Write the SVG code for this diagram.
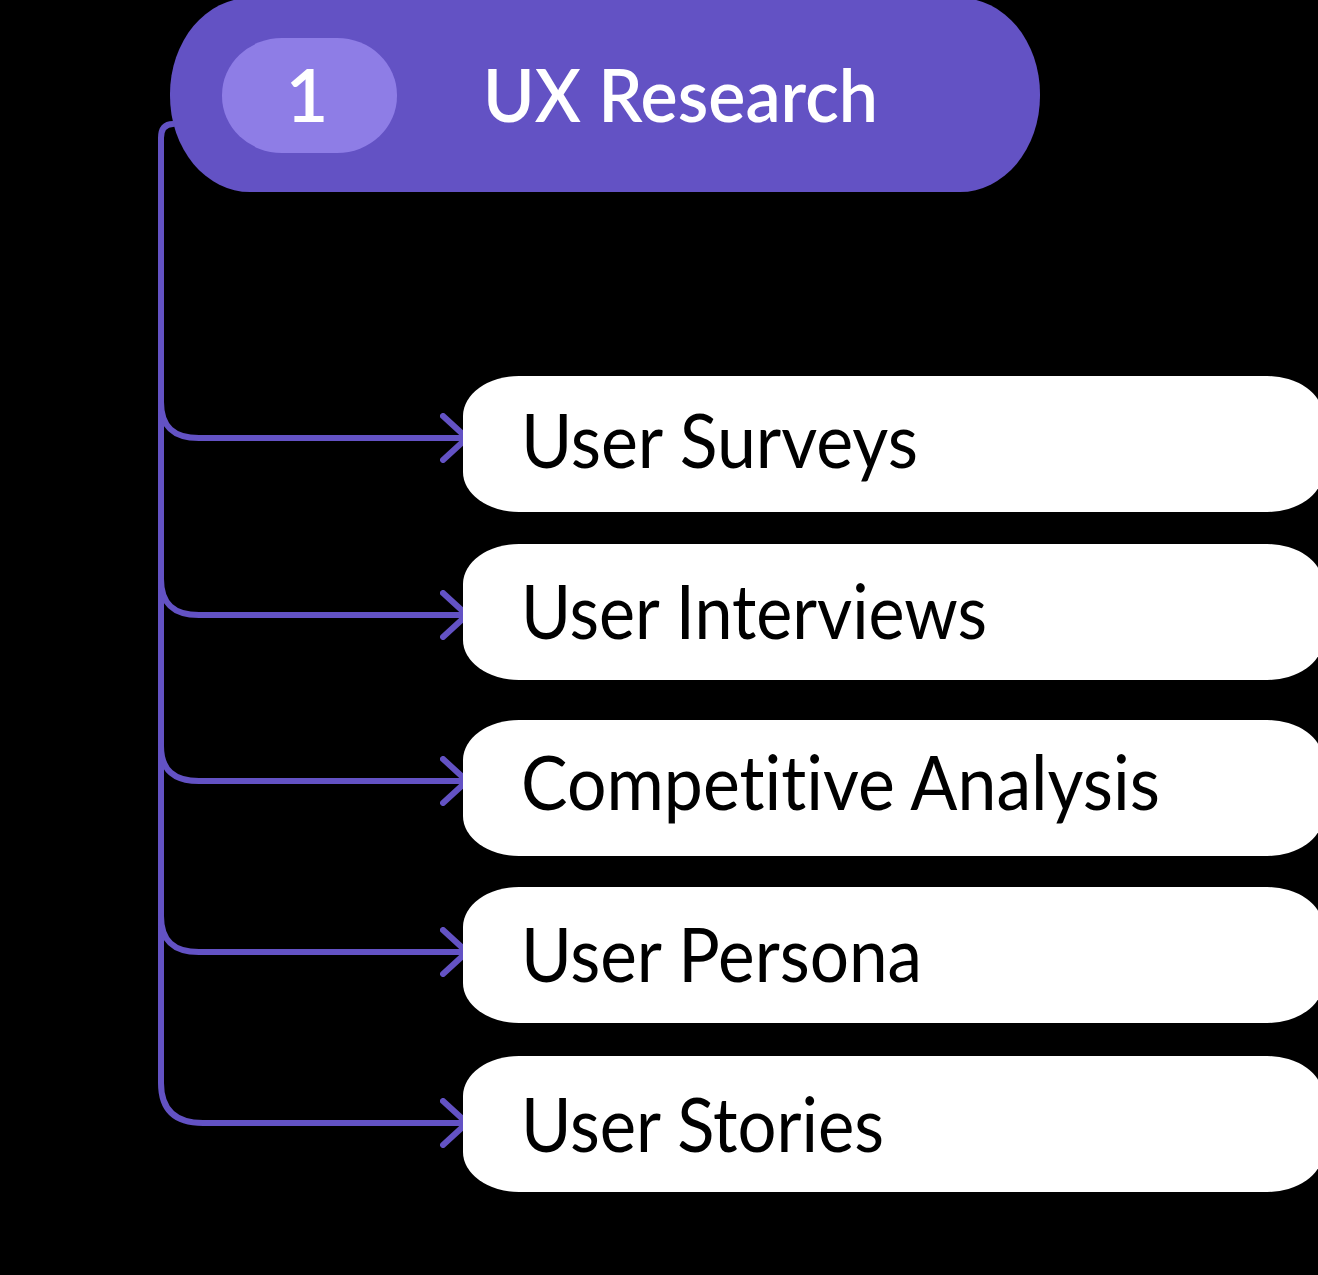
<svg xmlns="http://www.w3.org/2000/svg" width="1318" height="1275" viewBox="0 0 1318 1275">
  <style>
    .conn { fill: none; stroke: #6352C4; stroke-width: 6; stroke-linecap: round; stroke-linejoin: round; }
    .pill { fill: #FFFFFF; }
    .label { font-family: Lato, "Liberation Sans", sans-serif; font-size: 75px; font-weight: 400; fill: #000000; font-variant-ligatures: none; }
    .head { font-family: Lato, "Liberation Sans", sans-serif; font-size: 74px; font-weight: 600; fill: #FFFFFF; font-variant-ligatures: none; }
  </style>
  <defs>
    <marker id="chev" viewBox="0 0 30 50" refX="27" refY="25" markerWidth="30" markerHeight="50" markerUnits="userSpaceOnUse" orient="auto">
      <path d="M3,3 L27,25 L3,47" fill="none" stroke="#6352C4" stroke-width="6" stroke-linecap="round" stroke-linejoin="round"/>
    </marker>
  </defs>
  <rect x="0" y="0" width="1318" height="1275" fill="#000000"/>

  <g id="connectors">
    <path class="conn" d="M173,124 Q161,124 161,138 L161,1083 Q161,1123 203,1123 L467,1123" marker-end="url(#chev)"/>
    <path class="conn" d="M161,402 C161,427 174,438 199,438 L467,438" marker-end="url(#chev)"/>
    <path class="conn" d="M161,579 C161,604 174,615 199,615 L467,615" marker-end="url(#chev)"/>
    <path class="conn" d="M161,746 C161,770 174,781 199,781 L467,781" marker-end="url(#chev)"/>
    <path class="conn" d="M161,916 C161,941 174,952 199,952 L467,952" marker-end="url(#chev)"/>
  </g>

  <g id="header">
    <rect x="170" y="-2" width="870" height="194" rx="80" ry="96" fill="#6352C4"/>
    <rect x="222" y="38" width="175" height="115" rx="60" ry="57" fill="#8E7DE6"/>
    <text class="head" x="307" y="122" text-anchor="middle">1</text>
    <text class="head" x="483" y="122" textLength="395" lengthAdjust="spacingAndGlyphs">UX Research</text>
  </g>

  <g id="node-surveys">
    <rect class="pill" x="463" y="376" width="860" height="136" rx="56" ry="40"/>
    <text class="label" x="521" y="468" textLength="397" lengthAdjust="spacingAndGlyphs">User Surveys</text>
  </g>
  <g id="node-interviews">
    <rect class="pill" x="463" y="544" width="860" height="136" rx="56" ry="40"/>
    <text class="label" x="521" y="639" textLength="466" lengthAdjust="spacingAndGlyphs">User Interviews</text>
  </g>
  <g id="node-competitive">
    <rect class="pill" x="463" y="720" width="860" height="136" rx="56" ry="40"/>
    <text class="label" x="521" y="810" textLength="639" lengthAdjust="spacingAndGlyphs">Competitive Analysis</text>
  </g>
  <g id="node-persona">
    <rect class="pill" x="463" y="887" width="860" height="136" rx="56" ry="40"/>
    <text class="label" x="521" y="982" textLength="401" lengthAdjust="spacingAndGlyphs">User Persona</text>
  </g>
  <g id="node-stories">
    <rect class="pill" x="463" y="1056" width="860" height="136" rx="56" ry="40"/>
    <text class="label" x="521" y="1152" textLength="363" lengthAdjust="spacingAndGlyphs">User Stories</text>
  </g>
</svg>
